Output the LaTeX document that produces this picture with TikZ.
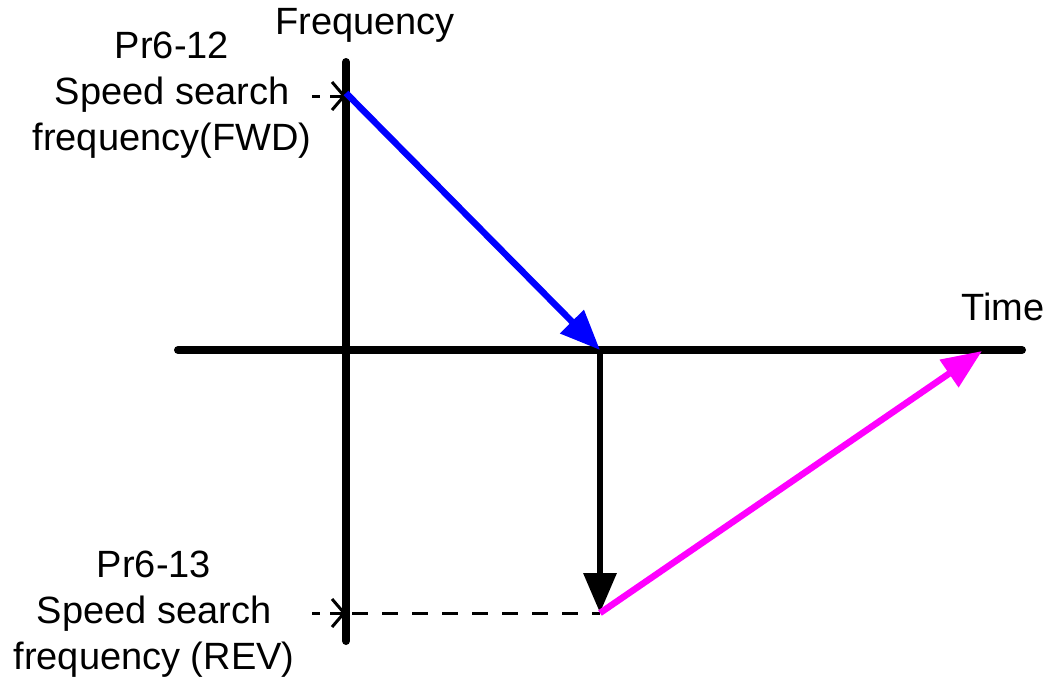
\documentclass[tikz,border=0pt]{standalone}
\usepackage{fontspec}
\setmainfont{Liberation Sans}
\usetikzlibrary{arrows.meta}
\definecolor{fwdblue}{RGB}{0,0,255}
\definecolor{revmag}{RGB}{255,0,255}
\begin{document}
\begin{tikzpicture}[x=1pt,y=-1pt,
  axis/.style={line width=8pt,line cap=round},
  bigarrow/.style={line width=6.5pt,-{Triangle[length=40pt,width=32pt]}},
  guide/.style={line width=3pt,dash pattern=on 16pt off 14pt},
  barb/.style={line width=3pt,-{Straight Barb[length=12pt,width=28pt]}},
  lbl/.style={font=\fontsize{38}{46}\selectfont,align=center,inner sep=0pt}]
\useasboundingbox (0,0) rectangle (1045,681);
% axes
\coordinate (vtop) at (346,62);
\coordinate (vbot) at (346,641);
\coordinate (hl) at (178,350);
\coordinate (hr) at (1022,350);
\draw[axis] (vtop) -- (vbot);
\draw[axis] (hl) -- (hr);
% key points
\coordinate (fwd) at (346,96);
\coordinate (zero) at (600,350);
\coordinate (rev) at (600,613);
\coordinate (end) at (982,351);
\coordinate (d1) at (312,96);
\coordinate (d1b) at (330,96);
\coordinate (d2) at (312,613);
\coordinate (d2b) at (330,613);
\coordinate (d2c) at (352,613);
% guides
\draw[line width=3pt] (d1) -- ++(8,0);
\draw[barb] (d1b) -- (fwd);
\draw[line width=3pt] (d2) -- ++(8,0);
\draw[barb] (d2b) -- (346,613);
\draw[guide] (d2c) -- (rev);
% arrows
\draw[bigarrow,fwdblue] (346,93) -- (zero);
\draw[bigarrow,black] (zero) -- (rev);
\draw[bigarrow,revmag] (rev) -- (end);
% labels
\node[lbl] (freq) at (365,25) {Frequency};
\node[lbl] (time) at (1003,307) {Time};
\node[lbl] (l12) at (172,95) {Pr6-12\\Speed search\\frequency(FWD)};
\node[lbl] (l13) at (154,614) {Pr6-13\\Speed search\\frequency (REV)};
\end{tikzpicture}
\end{document}
